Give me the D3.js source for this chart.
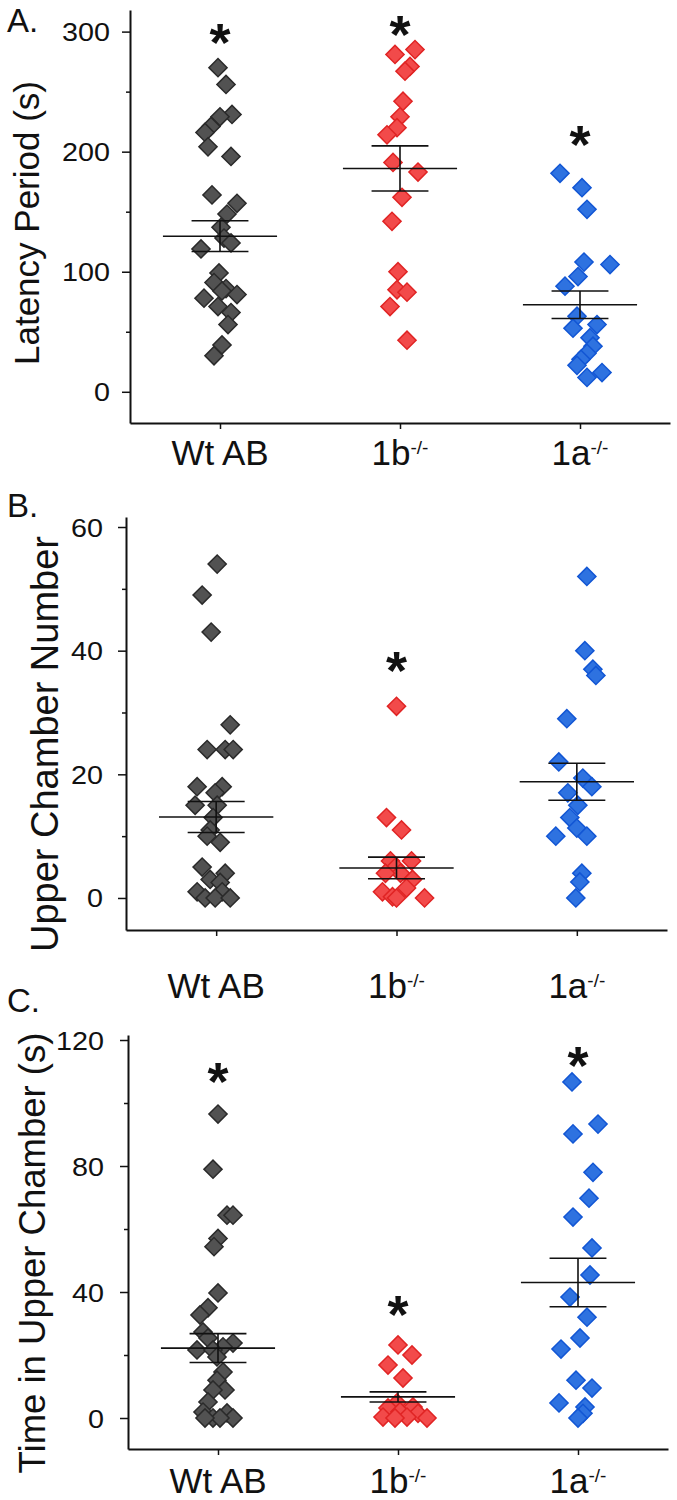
<!DOCTYPE html>
<html>
<head>
<meta charset="utf-8">
<script src="https://cdn.jsdelivr.net/npm/d3@7"></script>
<style>
  body { margin: 0; background: #fff; }
  svg text { font-family: "Liberation Sans", Arial, sans-serif; fill: #111; }
</style>
</head>
<body>
<div id="chart"></div>
<script>
var width = 677, height = 1500;

// groups and x labels (name, superscript)
var groups = ["Wt AB", "1b", "1a"];
var groupSup = ["", "-/-", "-/-"];

// A. Latency period (s)
var latencyWt = [270, 256, 231, 229, 221, 216, 204, 196, 164, 157, 148, 137, 128, 124, 119, 99, 91, 86, 84, 81, 78, 71, 66, 56, 39, 30];
var latencyWtJitter = [-0.1, 0.3, 0.6, 0, -0.45, -0.75, -0.6, 0.55, -0.4, 0.85, 0.35, 0.05, 0.2, 0.55, -0.95, -0.05, -0.3, 0.3, 0.1, 0.85, -0.8, -0.1, 0.55, 0.4, 0.1, -0.3];
var latency1b = [285, 281, 271, 267, 242, 229, 220, 214, 191, 183, 162, 142, 100, 85, 83, 71, 43];
var latency1bJitter = [0.75, -0.25, 0.5, 0.25, 0.15, 0, -0.15, -0.65, -0.35, 0.9, 0.1, -0.4, -0.1, -0.15, 0.35, -0.5, 0.35];
var latency1a = [182, 170, 152, 108, 106, 96, 88, 63, 56, 53, 45, 38, 32, 27, 22, 16, 12];
var latency1aJitter = [-1.0, 0.1, 0.35, 0.2, 1.5, -0.1, -0.75, -0.15, 0.85, -0.35, 0.5, 0.65, 0.35, 0.05, -0.15, 1.1, 0.35];
var latencyMean = [129.6, 186, 72.5];
var latencySem = [12.8, 18.8, 11.5];
var latencyTicks = [0, 100, 200, 300];
var latencyMinor = [50, 150, 250];
var latencyStars = [["Wt AB", 302], ["1b", 308], ["1a", 217]];

// B. Upper chamber number
var numberWt = [54, 49, 43, 28, 24, 24, 24, 18, 18, 17, 15, 15, 13, 11, 10, 9, 5, 4, 3, 2.5, 1, 1, 0, 0, 0];
var numberWtJitter = [0.05, -0.7, -0.25, 0.7, -0.45, 0.45, 0.85, -0.95, 0.3, -0.05, -1.05, 0.05, -0.15, -0.3, -0.45, 0.2, -0.7, 0.45, -0.3, 0.2, -0.95, 0.3, -0.55, -0.05, 0.7];
var number1b = [31, 13, 11, 6, 6, 5, 4, 4, 3, 1.6, 1, 0.2, 0, 0];
var number1bJitter = [0, -0.5, 0.25, -0.3, 0.75, -0.05, 0.2, -0.55, 0.8, 0.5, -0.7, -0.2, 0, 1.4];
var number1a = [52, 40, 37, 36, 29, 22, 19.4, 18, 17, 15, 13, 11.3, 10, 10, 4, 2.6, 0];
var number1aJitter = [0.5, 0.4, 0.8, 0.95, -0.5, -0.9, 0.3, 0.75, -0.45, 0.05, -0.35, 0, 0.5, -1.05, 0.25, 0.15, -0.05];
var numberMean = [13.1, 4.85, 18.8];
var numberSem = [2.5, 1.75, 3];
var numberTicks = [0, 20, 40, 60];
var numberMinor = [10, 30, 50];
var numberStars = [["1b", 38.8]];

// C. Time in upper chamber (s)
var timeWt = [96.5, 79, 64.4, 64.4, 57, 54.4, 39.7, 35, 32.7, 27.3, 25.4, 23.8, 22.6, 21.6, 21.6, 19.4, 14.6, 12, 8.9, 8.9, 5.1, 1.9, 1.6, 0, 0, 0, 0];
var timeWtJitter = [0, -0.25, 0.45, 0.75, 0, -0.2, 0, -0.5, -0.9, -0.75, -0.5, 0.75, 0.25, -1.05, -0.25, -0.05, 0.25, -0.05, 0.35, -0.25, -0.5, -0.75, 0.45, -0.25, 0.75, 0.1, -0.65];
var time1b = [23.2, 20, 16.8, 12.7, 4.8, 3.5, 3.2, 2, 1.5, 0.3, 0.3, 0, 0];
var time1bJitter = [0, 0.7, -0.5, 0.25, -0.05, 0.75, -0.5, 0.1, 1.0, -0.75, 0.45, -0.15, 1.45];
var time1a = [106.7, 93.3, 90.2, 78, 69.8, 63.8, 54, 45.4, 38.4, 32, 25.4, 21.9, 12, 9.5, 4.8, 3.5, 1.5, 0];
var time1aJitter = [-0.3, 1.0, -0.25, 0.75, 0.55, -0.25, 0.7, 0.6, -0.4, 0.45, 0.1, -0.85, -0.1, 0.7, -0.95, 0.35, 0.25, 0];
var timeMean = [22.2, 6.7, 43];
var timeSem = [4.6, 1.6, 7.7];
var timeTicks = [0, 40, 80, 120];
var timeMinor = [20, 60, 100];
var timeStars = [["Wt AB", 111], ["1b", 37], ["1a", 116]];

// marker colours per group
var fills = ["#525252", "#f24a4a", "#2e72e0"];
var strokes = ["#2a2a2a", "#e02424", "#1256d4"];

var svg = d3.select("#chart")
  .append("svg")
  .attr("width", width)
  .attr("height", height);

var diamond = d3.symbol().type(d3.symbolSquare).size(165);

// layout of each panel (pixels)
var panels = [
  {
    letter: "A.", letterY: 32, title: "Latency Period (s)", titleX: 39, titleY: 223, titleSize: 35,
    left: 130, right: 670, top: 10, bottom: 423, yDomain: [-26, 318], tickOff: 20, labelY: 465,
    ticks: latencyTicks, minor: latencyMinor,
    values: [latencyWt, latency1b, latency1a],
    jitter: [latencyWtJitter, latency1bJitter, latency1aJitter],
    mean: latencyMean, sem: latencySem, stars: latencyStars
  },
  {
    letter: "B.", letterY: 517, title: "Upper Chamber Number", titleX: 58, titleY: 744, titleSize: 38,
    left: 126, right: 667, top: 517, bottom: 930, yDomain: [-5.18, 61.62], tickOff: 23, labelY: 998,
    ticks: numberTicks, minor: numberMinor,
    values: [numberWt, number1b, number1a],
    jitter: [numberWtJitter, number1bJitter, number1aJitter],
    mean: numberMean, sem: numberSem, stars: numberStars
  },
  {
    letter: "C.", letterY: 1012, title: "Time in Upper Chamber (s)", titleX: 45, titleY: 1253, titleSize: 36.5,
    left: 128, right: 668, top: 1035, bottom: 1449, yDomain: [-9.84, 121.59], tickOff: 24, labelY: 1493,
    ticks: timeTicks, minor: timeMinor,
    values: [timeWt, time1b, time1a],
    jitter: [timeWtJitter, time1bJitter, time1aJitter],
    mean: timeMean, sem: timeSem, stars: timeStars
  }
];

panels.forEach(function(p) {
  var g = svg.append("g");

  var yScale = d3.scaleLinear()
    .domain(p.yDomain)
    .range([p.bottom, p.top]);

  var xScale = d3.scalePoint()
    .domain(groups)
    .range([p.left, p.right])
    .padding(0.5);

  var jitterScale = d3.scaleLinear()
    .domain([-1, 1])
    .range([-xScale.step() / 9, xScale.step() / 9]);

  // Minor ticks
  g.append("g")
    .attr("transform", `translate(${p.left},0)`)
    .call(d3.axisLeft(yScale).tickValues(p.minor).tickSize(4).tickFormat(""))
    .call(a => a.select(".domain").remove())
    .selectAll("line")
    .attr("stroke", "#111")
    .attr("stroke-width", 1.5);

  // Render Y axis
  var yAx = g.append("g")
    .attr("transform", `translate(${p.left},0)`)
    .call(d3.axisLeft(yScale).tickValues(p.ticks).tickSize(8).tickSizeOuter(0));
  yAx.select(".domain").attr("stroke", "#111").attr("stroke-width", 2);
  yAx.selectAll(".tick line").attr("stroke", "#111").attr("stroke-width", 1.5);
  yAx.selectAll(".tick text")
    .attr("x", -p.tickOff / 1.15)
    .attr("dy", "0.36em")
    .attr("transform", "scale(1.15,1)")
    .style("font-size", "25px")
    .style("font-family", "'Liberation Sans', Arial, sans-serif")
    .attr("fill", "#111");

  // Render X axis
  var xAx = g.append("g")
    .attr("transform", `translate(0,${p.bottom})`)
    .call(d3.axisBottom(xScale).tickSize(6).tickSizeOuter(0).tickFormat(""));
  xAx.select(".domain").attr("stroke", "#111").attr("stroke-width", 2);
  xAx.selectAll(".tick line").attr("stroke", "#111").attr("stroke-width", 1.5);

  // x labels with superscript
  var lab = g.selectAll(".xlab")
    .data(groups)
    .join("text")
    .attr("class", "xlab")
    .attr("x", d => xScale(d))
    .attr("y", p.labelY)
    .attr("text-anchor", "middle")
    .style("font-size", "35px");
  lab.append("tspan").text(d => d);
  lab.append("tspan")
    .attr("dy", -11)
    .style("font-size", "19px")
    .text((d, i) => groupSup[i]);

  // y title
  g.append("text")
    .attr("transform", `translate(${p.titleX},${p.titleY}) rotate(-90)`)
    .attr("text-anchor", "middle")
    .style("font-size", p.titleSize + "px")
    .text(p.title);

  // panel letter
  g.append("text")
    .attr("x", 7)
    .attr("y", p.letterY)
    .style("font-size", "33px")
    .text(p.letter);

  // points
  p.values.forEach(function(vals, i) {
    g.append("g")
      .selectAll("path")
      .data(vals)
      .join("path")
      .attr("d", diamond)
      .attr("transform", (d, j) => `translate(${xScale(groups[i]) + jitterScale(p.jitter[i][j])},${yScale(d)}) rotate(45)`)
      .attr("fill", fills[i])
      .attr("stroke", strokes[i])
      .attr("stroke-width", 1.5);
  });

  // mean and SEM
  var half = xScale.step() * 0.317, cap = xScale.step() * 0.158;
  var err = g.append("g").attr("stroke", "#111").attr("stroke-width", 1.6);
  groups.forEach(function(grp, i) {
    var cx = xScale(grp);
    var m = p.mean[i], s = p.sem[i];
    err.append("line")
      .attr("x1", cx - half).attr("x2", cx + half)
      .attr("y1", yScale(m)).attr("y2", yScale(m));
    err.append("line")
      .attr("x1", cx).attr("x2", cx)
      .attr("y1", yScale(m + s)).attr("y2", yScale(m - s));
    [m + s, m - s].forEach(function(v) {
      err.append("line")
        .attr("x1", cx - cap).attr("x2", cx + cap)
        .attr("y1", yScale(v)).attr("y2", yScale(v));
    });
  });

  // significance stars
  g.selectAll(".star")
    .data(p.stars)
    .join("text")
    .attr("class", "star")
    .attr("x", d => xScale(d[0]))
    .attr("y", d => yScale(d[1]))
    .attr("dy", "0.58em")
    .attr("text-anchor", "middle")
    .style("font-size", "54px")
    .style("font-weight", "bold")
    .text("*");
});
</script>
</body>
</html>
